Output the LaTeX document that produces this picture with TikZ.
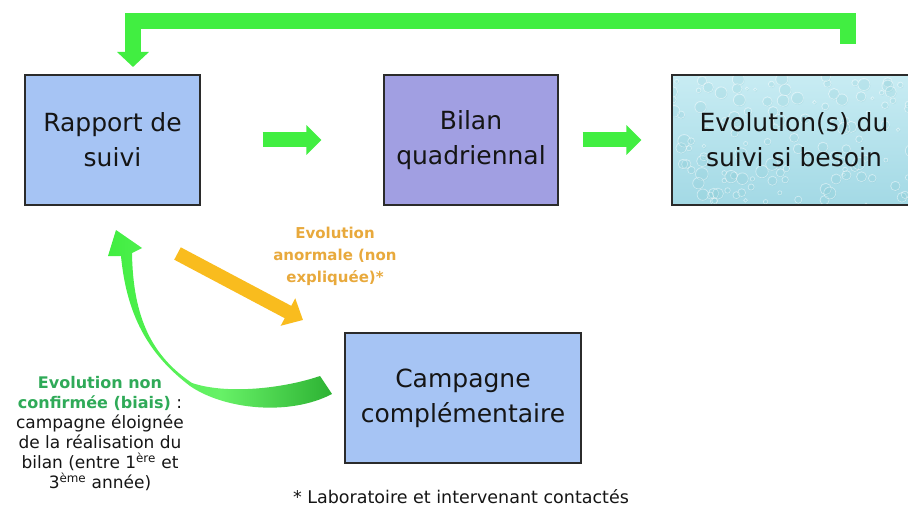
\documentclass[tikz,border=0pt]{standalone}
\usepackage{fontspec}
\setmainfont{DejaVu Sans}
\usetikzlibrary{arrows.meta}
\pgfdeclarelayer{background}
\pgfsetlayers{background,main}
\definecolor{boxblue}{HTML}{A6C4F4}
\definecolor{boxpurple}{HTML}{A19FE2}
\definecolor{aqualight}{HTML}{C8ECF3}
\definecolor{aquadark}{HTML}{A3D9E5}
\definecolor{arrgreen}{HTML}{41EE41}
\definecolor{arrgreendark}{HTML}{2DB233}
\definecolor{arrorange}{HTML}{F9BC1E}
\definecolor{txtorange}{HTML}{E8A93C}
\definecolor{txtgreen}{HTML}{2FAA58}
\definecolor{framegray}{HTML}{2B2B2B}
\definecolor{txtdark}{HTML}{151515}
\begin{document}
\begin{tikzpicture}[x=1pt,y=-1pt,
  stepbox/.style={draw=framegray, line width=1.1pt, align=center, inner sep=0pt,
    font=\fontsize{25}{35}\selectfont, text=txtdark},
  fatgreen/.style={draw=arrgreen, line width=15pt, line join=miter,
    -{Triangle[width=29pt,length=15pt]}},
  fatorange/.style={draw=arrorange, line width=14pt,
    -{Triangle[width=30pt,length=17pt]}},
  lbl/.style={align=center, inner sep=0pt}
]
\useasboundingbox (0,0) rectangle (908,508);

% boxes
\node[stepbox, fill=boxblue, minimum width=175pt, minimum height=130pt] (rap) at (112.5,140) {Rapport de\\suivi};
\node[stepbox, fill=boxpurple, minimum width=174pt, minimum height=130pt] (bil) at (471,140) {Bilan\\quadriennal};
\node[stepbox, minimum width=244pt, minimum height=130pt] (evo) at (794,140) {Evolution(s) du\\suivi si besoin};
\node[stepbox, fill=boxblue, minimum width=236pt, minimum height=130pt] (camp) at (463,398) {Campagne\\complémentaire};

% water-drop texture of the third box
\begin{pgfonlayer}{background}
  \shade[top color=aqualight, bottom color=aquadark] (evo.north west) rectangle (evo.south east);
  \begin{scope}
    \clip (evo.north west) rectangle (evo.south east);
    \pgfmathsetseed{7}
    \foreach \i in {1,...,130}{
      \pgfmathsetmacro\xx{672+240*rnd}
      \pgfmathsetmacro\yy{75+130*rnd}
      \pgfmathsetmacro\rr{1.5+5*rnd}
      \fill[aquadark!80!teal, opacity=0.2] (\xx+0.6,\yy+0.9) circle[radius=\rr];
      \draw[white, opacity=0.5, line width=0.6pt] (\xx,\yy) circle[radius=\rr];
    }
  \end{scope}
\end{pgfonlayer}

% straight block arrows
\draw[fatgreen, shorten <=62pt, shorten >=62pt] (rap.east) -- (bil.west);
\draw[fatgreen, shorten <=24pt, shorten >=30pt] (bil.east) -- (evo.west);

% feedback arrow on top
\coordinate (fbstart) at (848,44);
\coordinate (fbend) at (133,67);
\draw[fatgreen, line width=16pt, -{Triangle[width=31pt,length=15pt]}] (fbstart) -- ++(0,-22.5) -| (fbend);

% orange arrow
\coordinate (orA) at (177.5,253.5);
\coordinate (orB) at (303,320);
\draw[fatorange] (orA) -- (orB);

% green curved arrow from campagne back to rapport
\shade[left color=arrgreen, right color=arrgreendark, middle color=arrgreen!80!white]
  (332,394) .. controls (290,416) and (225,410) .. (190,386)
  .. controls (152,357) and (127,320) .. (121,256)
  -- (108,256) -- (116,230) -- (142,248) -- (132,253)
  .. controls (133,318) and (152,356) .. (192,383)
  .. controls (228,395) and (285,388) .. (320,376) -- cycle;

% labels
\node[lbl, text=txtorange, font=\bfseries\fontsize{15}{22}\selectfont] (lblor) at (335,256)
  {Evolution\\anormale (non\\expliquée)*};

\node[lbl, text=txtdark, font=\fontsize{17}{20}\selectfont] (lblgr) at (100,434)
  {{\color{txtgreen}\bfseries\fontsize{16}{20}\selectfont Evolution non}\\
   {\color{txtgreen}\bfseries\fontsize{16}{20}\selectfont confirmée (biais)} :\\
   campagne éloignée\\
   de la réalisation du\\
   bilan (entre 1\textsuperscript{ère} et\\
   3\textsuperscript{ème} année)};

\node[lbl, text=txtdark, font=\fontsize{17.5}{20}\selectfont] (foot) at (461,497)
  {* Laboratoire et intervenant contactés};
\end{tikzpicture}
\end{document}
